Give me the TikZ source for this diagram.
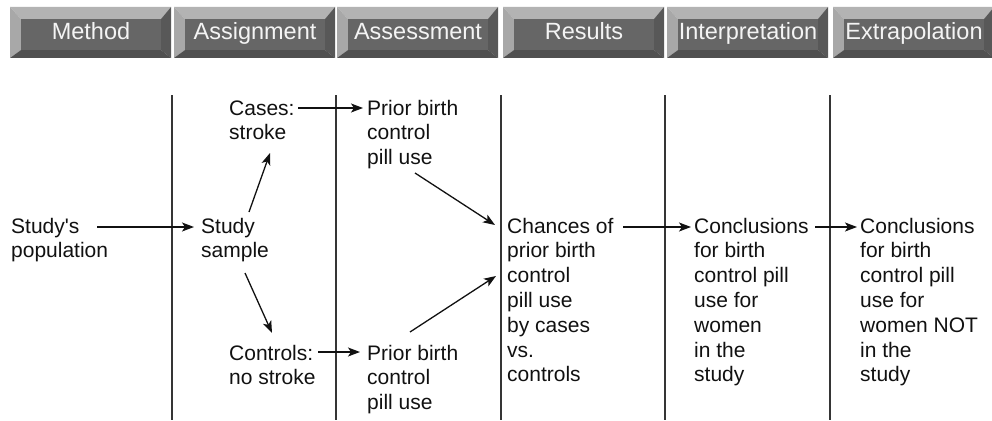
\documentclass[tikz,border=0pt]{standalone}
\usepackage{fontspec}
\setmainfont{Liberation Sans}[Ligatures=TeXOff]
\usetikzlibrary{arrows.meta}
\definecolor{bevtop}{HTML}{B3B3B3}
\definecolor{bevleft}{HTML}{A8A8A8}
\definecolor{bevface}{HTML}{666666}
\definecolor{bevright}{HTML}{585858}
\definecolor{bevbot}{HTML}{505050}
\definecolor{btnfg}{HTML}{F4F4F4}
\definecolor{ink}{HTML}{111111}
% left-aligned stack of lines whose baseline is that of its first line
\newcommand{\linesof}[1]{\begin{tabular}[t]{@{}l@{}}#1\end{tabular}}
\tikzset{
  lbl/.style={anchor=base west, inner sep=0pt, text=ink,
    font=\fontsize{21pt}{24.8pt}\selectfont},
  btntext/.style={anchor=base, inner sep=0pt, text=btnfg,
    font=\fontsize{23.5pt}{26pt}\selectfont},
  arr/.style={draw=ink, line width=1.3pt,
    -{Stealth[length=12pt,width=9pt,inset=3pt]}},
  divider/.style={draw=ink!85, line width=1.3pt}
}
\begin{document}
\begin{tikzpicture}[x=1pt,y=-1pt]
\useasboundingbox (0,0) rectangle (992,420);

% bevelled header buttons
\foreach \L/\txt [count=\i] in {10/Method,174/Assignment,337/Assessment,503/Results,667/Interpretation,833/Extrapolation} {
  \pgfmathsetmacro\R{\L+161}
  \pgfmathsetmacro\iL{\L+11}
  \pgfmathsetmacro\iR{\R-10}
  \pgfmathsetmacro\mid{(\iL+\iR)/2}
  \fill[bevtop]   (\L,7) -- (\R,7) -- (\iR,19) -- (\iL,19) -- cycle;
  \fill[bevleft]  (\L,7) -- (\iL,19) -- (\iL,50) -- (\L,58) -- cycle;
  \fill[bevright] (\R,7) -- (\iR,19) -- (\iR,50) -- (\R,58) -- cycle;
  \fill[bevbot]   (\L,58) -- (\R,58) -- (\iR,50) -- (\iL,50) -- cycle;
  \fill[bevface]  (\iL,19) rectangle (\iR,50);
  \node[btntext] (hdr\i) at (\mid,40) {\txt};
}

% column dividers
\foreach \x in {172,336,501,665,830}
  \draw[divider] (\x,95) -- (\x,420);

% stages
\node[lbl] (pop)     at (11,233)  {\linesof{Study's\\population}};
\node[lbl] (samp)    at (201,233) {\linesof{Study\\sample}};
\node[lbl] (cases)   at (229,115) {\linesof{Cases:\\stroke}};
\node[lbl] (ctrl)    at (229,360) {\linesof{Controls:\\no stroke}};
\node[lbl] (prior1)  at (367,115) {\linesof{Prior birth\\control\\pill use}};
\node[lbl] (prior2)  at (367,360) {\linesof{Prior birth\\control\\pill use}};
\node[lbl] (chance)  at (507,233) {\linesof{Chances of\\prior birth\\control\\pill use\\by cases\\vs.\\controls}};
\node[lbl] (concA)   at (694,233) {\linesof{Conclusions\\for birth\\control pill\\use for\\women\\in the\\study}};
\node[lbl] (concB)   at (860,233) {\linesof{Conclusions\\for birth\\control pill\\use for\\women NOT\\in the\\study}};

% connectors
\draw[arr] ([shift={(86,-6)}]pop.base west) -- ([shift={(-7,-6)}]samp.base west);
\draw[arr] ([shift={(48,-21)}]samp.base west) -- ([shift={(41,38)}]cases.base west);
\draw[arr] ([shift={(44,40)}]samp.base west) -- ([shift={(43,-27)}]ctrl.base west);
\draw[arr] ([shift={(69,-7)}]cases.base west) -- ([shift={(-4,-7)}]prior1.base west);
\draw[arr] ([shift={(89,-8)}]ctrl.base west) -- ([shift={(-7,-8)}]prior2.base west);
\draw[arr] ([shift={(48,58)}]prior1.base west) -- ([shift={(-12,-8)}]chance.base west);
\draw[arr] ([shift={(43,-28)}]prior2.base west) -- ([shift={(-11,43)}]chance.base west);
\draw[arr] ([shift={(116,-6)}]chance.base west) -- ([shift={(-3,-6)}]concA.base west);
\draw[arr] ([shift={(121,-6)}]concA.base west) -- ([shift={(-3,-6)}]concB.base west);
\end{tikzpicture}
\end{document}
